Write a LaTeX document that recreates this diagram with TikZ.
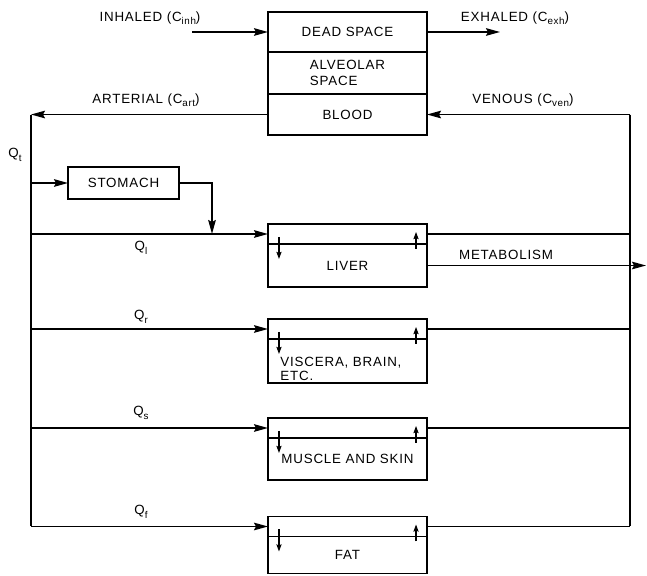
\documentclass[tikz,border=0pt]{standalone}
\usepackage{fontspec}
\setmainfont{Liberation Sans}[LetterSpace=6]
\usepackage{tikz}
\usetikzlibrary{arrows.meta,positioning,calc}
\newcommand{\lsub}[1]{\raisebox{-0.5ex}{\fontsize{7}{8}\selectfont #1}}

\tikzset{
  box/.style={draw, line width=1.1pt, minimum width=3.975cm, inner sep=2pt, outer sep=0pt},
  band/.style={box, minimum height=0.5cm},
  pipe/.style={line width=1.1pt},
  flow/.style={pipe, -{Stealth[length=3.5mm,width=1.9mm,inset=0.5mm]}},
  tick/.style={line width=0.8pt, -{Stealth[length=1.8mm,width=1.3mm,inset=0.3mm]}}
}

\begin{document}
\begin{tikzpicture}[x=0.025cm, y=-0.025cm, font=\fontsize{9.5}{11}\selectfont]
  \useasboundingbox (0,0) rectangle (647,576);

  % lung
  \node[box, minimum height=1cm] (dead) at (347.5,32) {DEAD SPACE};
  \node[box, minimum height=1.05cm, below=0pt of dead, align=left] (alv) {ALVEOLAR\\SPACE};
  \node[box, minimum height=1.025cm, below=0pt of alv] (blood) {BLOOD};

  % tissue compartments: blood band on top, tissue below
  \node[band] (livb) at (347.5,234) {};
  \node[box, minimum height=1.075cm, below=0pt of livb] (liv) {LIVER};
  \node[band] (viscb) at (347.5,329) {};
  \node[box, minimum height=1.1cm, below=0pt of viscb, align=left, text width=3.35cm,
    inner ysep=0pt, font=\fontsize{9.5}{9.5}\selectfont] (visc)
    {\rule{0pt}{18pt}VISCERA, BRAIN,\\ETC.};
  \node[band] (musb) at (347.5,428) {};
  \node[box, minimum height=1.05cm, below=0pt of musb] (mus) {MUSCLE AND SKIN};
  \node[band] (fatb) at (347.5,526.5) {};
  \node[box, minimum height=0.925cm, below=0pt of fatb] (fat) {FAT};

  % stomach
  \node[box, minimum width=2.775cm, minimum height=0.8cm] (stom) at (123.5,183) {STOMACH};

  % trunk lines
  \coordinate (lft) at (31,0);
  \coordinate (rgt) at (630,0);
  \coordinate (inh) at (192,0);
  \coordinate (exh) at (500,0);
  \coordinate (stoj) at (212,0);
  \coordinate (met) at (646,0);
  \coordinate (artL) at (blood.west -| lft);
  \coordinate (venR) at (blood.east -| rgt);
  \coordinate (fatL) at (fatb.west -| lft);
  \coordinate (fatR) at (fatb.east -| rgt);

  \draw[flow] (dead.west -| inh) -- (dead.west);
  \draw[flow] (dead.east) -- (dead.east -| exh);
  \draw[flow] (blood.west) -- (artL);
  \draw[flow] (venR) -- (blood.east);
  \draw[pipe] (artL) -- (fatL);
  \draw[pipe] (venR) -- (fatR);

  % branches
  \draw[flow] (stom.west -| lft) -- (stom.west);
  \draw[flow] (stom.east) -| (livb.west -| stoj);
  \draw[flow] (livb.west -| lft) -- (livb.west);
  \draw[pipe] (livb.east) -- (livb.east -| rgt);
  \draw[flow] (liv.east) -- (liv.east -| met);
  \draw[flow] (viscb.west -| lft) -- (viscb.west);
  \draw[pipe] (viscb.east) -- (viscb.east -| rgt);
  \draw[flow] (musb.west -| lft) -- (musb.west);
  \draw[pipe] (musb.east) -- (musb.east -| rgt);
  \draw[flow] (fatL) -- (fatb.west);
  \draw[pipe] (fatb.east) -- (fatR);

  % exchange ticks
  \draw[tick] ($(livb.south west)+(11,-7)$) -- ++(0,22);
  \draw[tick] ($(livb.south east)+(-11,5)$) -- ++(0,-17);
  \draw[tick] ($(viscb.south west)+(11,-7)$) -- ++(0,22);
  \draw[tick] ($(viscb.south east)+(-11,5)$) -- ++(0,-17);
  \draw[tick] ($(musb.south west)+(11,-7)$) -- ++(0,22);
  \draw[tick] ($(musb.south east)+(-11,5)$) -- ++(0,-17);
  \draw[tick] ($(fatb.south west)+(11,-7)$) -- ++(0,22);
  \draw[tick] ($(fatb.south east)+(-11,5)$) -- ++(0,-17);

  % labels
  \node (inhl) at (150,18) {INHALED (C\lsub{inh})};
  \node (exhl) at (515,18) {EXHALED (C\lsub{exh})};
  \node (artl) at (146,100) {ARTERIAL (C\lsub{art})};
  \node (venl) at (523,100) {VENOUS (C\lsub{ven})};
  \node (metl) at (506,255) {METABOLISM};
  \node (qt) at (15,155) {Q\lsub{t}};
  \node (ql) at (141,248) {Q\lsub{l}};
  \node (qr) at (141,317) {Q\lsub{r}};
  \node (qs) at (141,413) {Q\lsub{s}};
  \node (qf) at (141,512) {Q\lsub{f}};
\end{tikzpicture}
\end{document}
